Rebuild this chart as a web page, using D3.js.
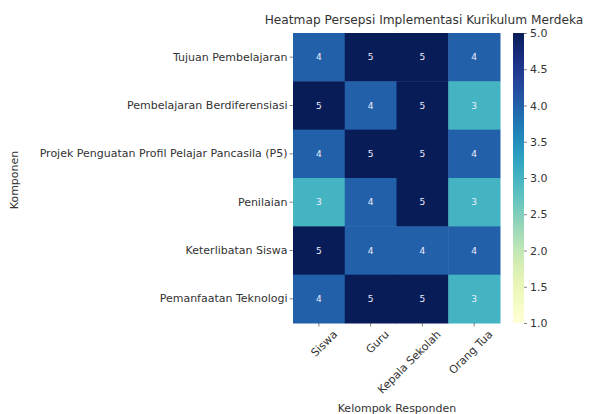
<!DOCTYPE html>
<html><head><meta charset="utf-8">
<script src="https://cdn.jsdelivr.net/npm/d3@7"></script>
<style>body{margin:0;background:#fff}svg{display:block}text{font-family:"DejaVu Sans",sans-serif}</style>
</head><body>
<svg id="c" width="599" height="414"></svg>
<script>
const components = ["Tujuan Pembelajaran","Pembelajaran Berdiferensiasi","Projek Penguatan Profil Pelajar Pancasila (P5)","Penilaian","Keterlibatan Siswa","Pemanfaatan Teknologi"];
const groups = ["Siswa","Guru","Kepala Sekolah","Orang Tua"];
const values = [
  [4,5,5,4],
  [5,4,5,3],
  [4,5,5,4],
  [3,4,5,3],
  [5,4,4,4],
  [4,5,5,3]
];
const cbTicks = [1.0,1.5,2.0,2.5,3.0,3.5,4.0,4.5,5.0];

const FS = 11;
const svg = d3.select("#c");
const L=293, R=500, T=33, B=323;
const x = d3.scaleBand().domain(groups).range([L,R]);
const y = d3.scaleBand().domain(components).range([T,B]);
const color = d3.scaleSequential(d3.interpolateYlGnBu).domain([1,5]);

const cells = [];
components.forEach((c,i)=>groups.forEach((g,j)=>cells.push({c,g,v:values[i][j]})));
svg.selectAll("rect.cell").data(cells).join("rect").attr("class","cell")
  .attr("x",d=>x(d.g)).attr("y",d=>y(d.c))
  .attr("width",x.bandwidth()+0.5).attr("height",y.bandwidth()+0.5)
  .attr("fill",d=>color(d.v));
svg.selectAll("text.ann").data(cells).join("text").attr("class","ann")
  .attr("x",d=>x(d.g)+x.bandwidth()/2).attr("y",d=>y(d.c)+y.bandwidth()/2)
  .attr("text-anchor","middle").attr("dominant-baseline","central")
  .attr("font-size",9).attr("fill","#eef").text(d=>d.v);

// y axis
const ya = svg.append("g").attr("transform",`translate(${L},0)`)
  .call(d3.axisLeft(y).tickSize(3.5).tickPadding(2));
ya.select(".domain").remove();
ya.selectAll("text").attr("font-size",FS).attr("fill","#333").style("font-family","DejaVu Sans");
ya.selectAll("line").attr("stroke","#333").attr("stroke-width",0.6);

// x axis
const xa = svg.append("g").attr("transform",`translate(0,${B})`)
  .call(d3.axisBottom(x).tickSize(3.5).tickPadding(3));
xa.select(".domain").remove();
xa.selectAll("line").attr("stroke","#333").attr("stroke-width",0.6);
xa.selectAll("text").attr("font-size",FS).attr("fill","#333").style("font-family","DejaVu Sans")
  .attr("text-anchor","end").attr("dy","0.7em")
  .attr("transform","translate(9,2) rotate(-45)");

// colorbar
const cbX=513, cbW=11;
const cy = d3.scaleLinear().domain([1,5]).range([B,T]);
const defs = svg.append("defs");
const grad = defs.append("linearGradient").attr("id","g").attr("x1",0).attr("y1",1).attr("x2",0).attr("y2",0);
d3.range(0,1.0001,0.05).forEach(t=>grad.append("stop").attr("offset",t).attr("stop-color",color(1+4*t)));
svg.append("rect").attr("x",cbX).attr("y",T).attr("width",cbW).attr("height",B-T).attr("fill","url(#g)");
const ca = svg.append("g").attr("transform",`translate(${cbX+cbW},0)`)
  .call(d3.axisRight(cy).tickValues(cbTicks).tickFormat(d3.format(".1f")).tickSize(3).tickPadding(3));
ca.select(".domain").remove();
ca.selectAll("line").attr("stroke","#333").attr("stroke-width",0.6);
ca.selectAll("text").attr("font-size",FS).attr("fill","#333").style("font-family","DejaVu Sans");

// titles
svg.append("text").attr("x",424).attr("y",24).attr("text-anchor","middle").attr("font-size",12.2).attr("fill","#333")
  .text("Heatmap Persepsi Implementasi Kurikulum Merdeka");
svg.append("text").attr("x",397).attr("y",412).attr("text-anchor","middle").attr("font-size",FS).attr("fill","#333")
  .text("Kelompok Responden");
svg.append("text").attr("transform","translate(18,180) rotate(-90)").attr("text-anchor","middle").attr("font-size",FS).attr("fill","#333")
  .text("Komponen");
</script>
</body></html>
